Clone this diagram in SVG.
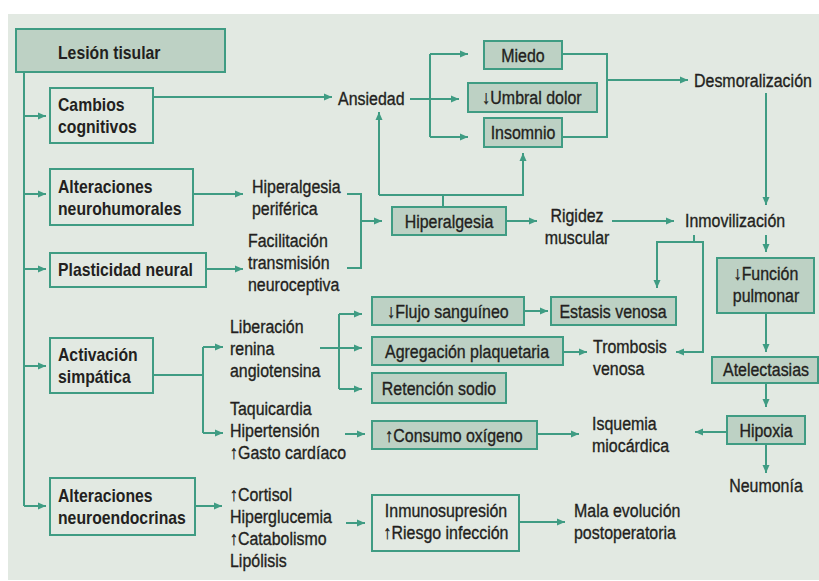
<svg xmlns="http://www.w3.org/2000/svg" width="819" height="581" viewBox="0 0 819 581">
  <style>
    text { font-family: "Liberation Sans", Arial, sans-serif; font-size: 19px; fill: #231f20; stroke: #231f20; stroke-width: 0.35; }
    .b { font-weight: bold; stroke-width: 0; }
    .m { text-anchor: middle; }
    .box { fill: none; stroke: #3f9c83; stroke-width: 2; }
    .fbox { fill: #bdd1c4; stroke: #3f9c83; stroke-width: 2; }
    .ln { fill: none; stroke: #3f9c83; stroke-width: 2; }
    .ar { marker-end: url(#ah); }
  </style>
  <defs>
    <marker id="ah" markerUnits="userSpaceOnUse" markerWidth="9" markerHeight="8" refX="8" refY="4" orient="auto">
      <path d="M0,0.5 L8,4 L0,7.5 z" fill="#3f9c83"/>
    </marker>
  </defs>

  <rect x="8" y="14" width="811" height="566" fill="#e2e9e2"/>

  <g id="connectors">
    <path class="ln" d="M24,72 V506"/>
    <path class="ln ar" d="M24,116 H46"/>
    <path class="ln ar" d="M24,194 H46"/>
    <path class="ln ar" d="M24,269 H46"/>
    <path class="ln ar" d="M24,366 H46"/>
    <path class="ln ar" d="M24,506 H46"/>

    <path class="ln ar" d="M153,97 H332"/>
    <path class="ln ar" d="M410,99 H459"/>
    <path class="ln" d="M430,54 V137"/>
    <path class="ln ar" d="M430,54 H468"/>
    <path class="ln ar" d="M430,137 H468"/>
    <path class="ln" d="M562,54 H607 V137 H562"/>
    <path class="ln ar" d="M607,80 H688"/>
    <path class="ln ar" d="M766,93 V205"/>

    <path class="ln ar" d="M193,194 H243"/>
    <path class="ln ar" d="M206,269 H243"/>
    <path class="ln" d="M347,194 H361 V268 H347"/>
    <path class="ln ar" d="M361,221 H382"/>

    <path class="ln" d="M443,207 V195"/>
    <path class="ln ar" d="M379,195 V112"/>
    <path class="ln ar" d="M379,195 H523 V153"/>

    <path class="ln ar" d="M506,221 H537"/>
    <path class="ln ar" d="M612,221 H674"/>
    <path class="ln ar" d="M766,235 V252"/>
    <path class="ln" d="M694,235 V242"/>
    <path class="ln ar" d="M694,242 H657 V288"/>
    <path class="ln ar" d="M694,242 H703 V352 H676"/>
    <path class="ln ar" d="M766,313 V352"/>
    <path class="ln ar" d="M766,383 V407"/>
    <path class="ln ar" d="M766,444 V473"/>
    <path class="ln ar" d="M727,432 H695"/>

    <path class="ln" d="M153,375 H203"/>
    <path class="ln" d="M203,347 V433"/>
    <path class="ln ar" d="M203,347 H223"/>
    <path class="ln ar" d="M203,433 H223"/>
    <path class="ln ar" d="M320,348 H362"/>
    <path class="ln" d="M339,314 V389"/>
    <path class="ln ar" d="M339,314 H362"/>
    <path class="ln ar" d="M339,389 H362"/>
    <path class="ln ar" d="M524,311 H548"/>
    <path class="ln ar" d="M563,352 H587"/>
    <path class="ln ar" d="M345,434 H365"/>
    <path class="ln ar" d="M537,434 H579"/>

    <path class="ln ar" d="M195,506 H222"/>
    <path class="ln ar" d="M346,523 H365"/>
    <path class="ln ar" d="M519,522 H565"/>
  </g>

  <!-- texts use a condensed look: each is placed by translate and narrowed by scale -->
  <g id="lesion-tisular">
    <rect class="fbox" x="16" y="29" width="209" height="43"/>
    <text class="b" transform="translate(58 59) scale(.83 1)">Lesión tisular</text>
  </g>
  <g id="cambios-cognitivos">
    <rect class="box" x="50" y="88" width="103" height="55"/>
    <text class="b" transform="translate(58 111) scale(.83 1)">Cambios<tspan x="0" dy="22">cognitivos</tspan></text>
  </g>
  <g id="alteraciones-neurohumorales">
    <rect class="box" x="50" y="169" width="143" height="56"/>
    <text class="b" transform="translate(58 193) scale(.83 1)">Alteraciones<tspan x="0" dy="22">neurohumorales</tspan></text>
  </g>
  <g id="plasticidad-neural">
    <rect class="box" x="50" y="253" width="156" height="34"/>
    <text class="b" transform="translate(58 276) scale(.83 1)">Plasticidad neural</text>
  </g>
  <g id="activacion-simpatica">
    <rect class="box" x="50" y="338" width="103" height="55"/>
    <text class="b" transform="translate(58 361) scale(.83 1)">Activación<tspan x="0" dy="22">simpática</tspan></text>
  </g>
  <g id="alteraciones-neuroendocrinas">
    <rect class="box" x="50" y="478" width="145" height="57"/>
    <text class="b" transform="translate(58 502) scale(.83 1)">Alteraciones<tspan x="0" dy="22">neuroendocrinas</tspan></text>
  </g>

  <g id="ansiedad">
    <text transform="translate(338 105) scale(.84 1)">Ansiedad</text>
  </g>
  <g id="miedo">
    <rect class="fbox" x="484" y="41" width="78" height="28"/>
    <text class="m" transform="translate(523 62) scale(.84 1)">Miedo</text>
  </g>
  <g id="umbral-dolor">
    <rect class="fbox" x="468" y="83" width="129" height="29"/>
    <text class="m" transform="translate(532 104) scale(.84 1)">↓Umbral dolor</text>
  </g>
  <g id="insomnio">
    <rect class="fbox" x="484" y="118" width="78" height="29"/>
    <text class="m" transform="translate(523 139) scale(.84 1)">Insomnio</text>
  </g>
  <g id="desmoralizacion">
    <text transform="translate(694 87) scale(.84 1)">Desmoralización</text>
  </g>

  <g id="hiperalgesia-periferica">
    <text transform="translate(252 193) scale(.84 1)">Hiperalgesia<tspan x="0" dy="22">periférica</tspan></text>
  </g>
  <g id="facilitacion">
    <text transform="translate(248 247) scale(.84 1)">Facilitación<tspan x="0" dy="22">transmisión</tspan><tspan x="0" dy="22">neuroceptiva</tspan></text>
  </g>
  <g id="hiperalgesia">
    <rect class="fbox" x="392" y="207" width="114" height="28"/>
    <text class="m" transform="translate(449 228) scale(.84 1)">Hiperalgesia</text>
  </g>
  <g id="rigidez-muscular">
    <text class="m" transform="translate(577 222) scale(.84 1)">Rigidez<tspan x="0" dy="22">muscular</tspan></text>
  </g>
  <g id="inmovilizacion">
    <text transform="translate(685 227) scale(.84 1)">Inmovilización</text>
  </g>
  <g id="funcion-pulmonar">
    <rect class="fbox" x="717" y="258" width="97" height="55"/>
    <text class="m" transform="translate(766 280) scale(.84 1)">↓Función<tspan x="0" dy="22">pulmonar</tspan></text>
  </g>
  <g id="atelectasias">
    <rect class="fbox" x="712" y="357" width="106" height="26"/>
    <text class="m" transform="translate(766 376) scale(.84 1)">Atelectasias</text>
  </g>
  <g id="hipoxia">
    <rect class="fbox" x="727" y="416" width="78" height="28"/>
    <text class="m" transform="translate(766 437) scale(.84 1)">Hipoxia</text>
  </g>
  <g id="neumonia">
    <text class="m" transform="translate(766 492) scale(.84 1)">Neumonía</text>
  </g>

  <g id="liberacion-renina">
    <text transform="translate(230 333) scale(.84 1)">Liberación<tspan x="0" dy="22">renina</tspan><tspan x="0" dy="22">angiotensina</tspan></text>
  </g>
  <g id="flujo-sanguineo">
    <rect class="fbox" x="372" y="297" width="152" height="28"/>
    <text class="m" transform="translate(448 318) scale(.84 1)">↓Flujo sanguíneo</text>
  </g>
  <g id="agregacion-plaquetaria">
    <rect class="fbox" x="372" y="337" width="191" height="28"/>
    <text class="m" transform="translate(467 358) scale(.84 1)">Agregación plaquetaria</text>
  </g>
  <g id="retencion-sodio">
    <rect class="fbox" x="372" y="373" width="134" height="30"/>
    <text class="m" transform="translate(439 395) scale(.84 1)">Retención sodio</text>
  </g>
  <g id="estasis-venosa">
    <rect class="fbox" x="551" y="297" width="125" height="28"/>
    <text class="m" transform="translate(613 318) scale(.84 1)">Estasis venosa</text>
  </g>
  <g id="trombosis-venosa">
    <text transform="translate(593 353) scale(.84 1)">Trombosis<tspan x="0" dy="22">venosa</tspan></text>
  </g>
  <g id="taquicardia">
    <text transform="translate(230 415) scale(.84 1)">Taquicardia<tspan x="0" dy="22">Hipertensión</tspan><tspan x="0" dy="22">↑Gasto cardíaco</tspan></text>
  </g>
  <g id="consumo-oxigeno">
    <rect class="fbox" x="372" y="421" width="165" height="28"/>
    <text class="m" transform="translate(454 442) scale(.84 1)">↑Consumo oxígeno</text>
  </g>
  <g id="isquemia-miocardica">
    <text transform="translate(592 430) scale(.84 1)">Isquemia<tspan x="0" dy="22">miocárdica</tspan></text>
  </g>

  <g id="cortisol">
    <text transform="translate(230 501) scale(.84 1)">↑Cortisol<tspan x="0" dy="22">Hiperglucemia</tspan><tspan x="0" dy="22">↑Catabolismo</tspan><tspan x="0" dy="22">Lipólisis</tspan></text>
  </g>
  <g id="inmunosupresion">
    <rect class="box" x="372" y="495" width="147" height="56"/>
    <text class="m" transform="translate(446 517) scale(.84 1)">Inmunosupresión<tspan x="0" dy="22">↑Riesgo infección</tspan></text>
  </g>
  <g id="mala-evolucion">
    <text transform="translate(574 517) scale(.84 1)">Mala evolución<tspan x="0" dy="22">postoperatoria</tspan></text>
  </g>
</svg>
